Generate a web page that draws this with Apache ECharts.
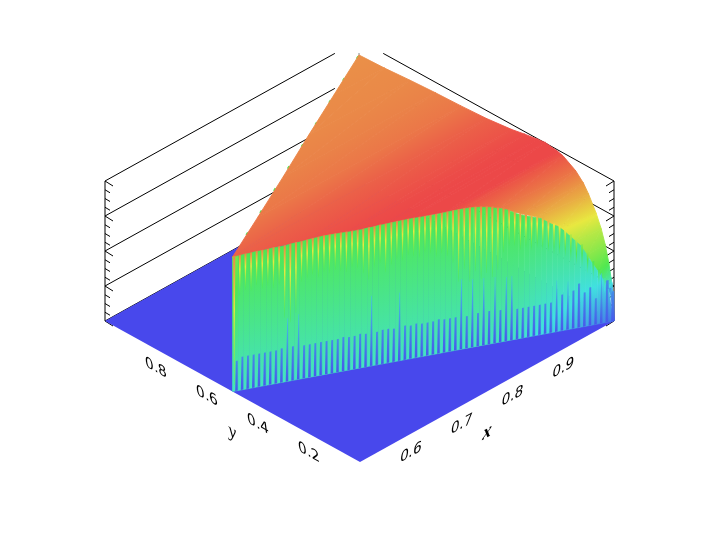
<!DOCTYPE html>
<html>
<head>
<meta charset="utf-8">
<style>
  html, body { margin: 0; padding: 0; background: #fff; }
  #main { width: 720px; height: 540px; }
</style>
<script src="https://cdn.jsdelivr.net/npm/echarts@6/dist/echarts.min.js"></script>
</head>
<body>
<div id="main"></div>
<script>
const xTicks = [0.6, 0.7, 0.8, 0.9]
const yTicks = [0.2, 0.4, 0.6, 0.8]
const zMajor = [0, 35, 70, 105, 140]
const zMinor = [8.75, 17.5, 26.25, 43.75, 52.5, 61.25, 78.75, 87.5, 96.25, 113.75, 122.5, 131.25]

// colour scale, position / colour
const scalePos = [0, 0.25, 0.5, 0.75, 1, 1.2]
const scaleColor = ['#4848ec', '#40e0e0', '#50e850', '#e8e840', '#ec4848', '#ea9048']

// surface, one entry per y line, far side to near side
const surfaceY = [1, 0.9, 0.8, 0.7, 0.6, 0.5, 0.4, 0.35, 0.3, 0.27, 0.22, 0.2, 0.15, 0.12, 0.1, 0.07, 0.05, 0.035, 0.02, 0.012, 0.008, 0.004, 0]
const surfaceOuterZ = [125, 126, 128, 129.5, 130.5, 132, 135, 137.5, 139.5, 140.5, 138.5, 137, 129, 121, 113, 98, 85, 72, 55, 42, 37, 25, 1]
const surfaceInnerZ = [125, 127, 129, 130, 132, 134.5, 138, 138, 139, 139.7, 139.8, 140, 134, 124, 118, 102, 87, 71, 51, 39, 34, 27, 1]
const surfaceTone = [1.2, 1.19, 1.18, 1.16, 1.13, 1.07, 1.03, 1.01, 1, 1, 1, 0.98, 0.93, 0.88, 0.84, 0.76, 0.67, 0.6, 0.5, 0.36, 0.25, 0.12, 0]

// jagged front wall, one entry per column, left to right
const wallTop = [134.5, 134.5, 135, 135, 135.5, 135.5, 135.5, 136, 136, 136, 136.5, 137, 137, 137.5, 138, 138.3, 138.6, 138.6, 138.6, 138.4,
  138.2, 138, 138, 138, 138.5, 138.5, 139, 139, 139.3, 139.5, 139.6, 139.7, 139.7, 139.6, 139.5, 139.4, 139.4, 139.5, 139.7, 139.9,
  140, 140, 139.8, 139.4, 138.6, 137.5, 136.4, 134.5, 133, 130.8, 127.5, 124.5, 122, 120, 118, 116, 112, 108, 105, 100,
  94, 88, 82, 73, 63, 54, 44, 33]
const stripeLen = [128, 40, 36, 38, 34, 38, 36, 40, 38, 72, 78, 70, 40, 38, 36, 40, 36, 38, 36, 38,
  40, 36, 38, 44, 52, 40, 38, 48, 42, 38, 40, 36, 38, 40, 36, 38, 42, 40, 44, 52,
  72, 60, 74, 64, 72, 66, 70, 62, 44, 36, 34, 36, 32, 34, 30, 32, 30, 30, 28, 26,
  26, 24, 22, 20, 18, 16, 14, 10]
const spikeLen = [30, 33, 33, 33, 33, 33, 33, 33, 34, 63, 34, 65, 33, 33, 33, 33, 33, 33, 33, 34,
  33, 33, 34, 33, 70, 33, 34, 34, 33, 68, 34, 33, 34, 33, 33, 33, 34, 33, 33, 33,
  70, 32, 68, 33, 67, 33, 66, 32, 64, 64, 30, 30, 30, 30, 30, 30, 30, 51, 36, 48,
  38, 44, 34, 38, 26, 50, 42, 30]
const wallTopTone = [0.56, 0.5, 0.5, 0.5, 0.5, 0.5, 0.5, 0.5, 0.5, 0.5, 0.5, 0.5, 0.5, 0.5, 0.5, 0.5, 0.5, 0.5, 0.5, 0.5,
  0.5, 0.5, 0.5, 0.5, 0.5, 0.5, 0.5, 0.5, 0.5, 0.5, 0.5, 0.5, 0.5, 0.5, 0.5, 0.5, 0.5, 0.5, 0.5, 0.5,
  0.5, 0.5, 0.5, 0.5, 0.5, 0.5, 0.5, 0.5, 0.5, 0.5, 0.5, 0.5, 0.49, 0.48, 0.47, 0.46, 0.45, 0.44, 0.44, 0.43,
  0.42, 0.4, 0.38, 0.36, 0.33, 0.29, 0.25, 0.21]
const wallFootTone = [0.3, 0.3, 0.3, 0.3, 0.3, 0.3, 0.3, 0.3, 0.3, 0.3, 0.3, 0.3, 0.3, 0.3, 0.3, 0.3, 0.3, 0.3, 0.3, 0.3,
  0.3, 0.3, 0.3, 0.3, 0.3, 0.3, 0.3, 0.3, 0.3, 0.3, 0.3, 0.3, 0.3, 0.3, 0.3, 0.3, 0.3, 0.3, 0.3, 0.3,
  0.3, 0.3, 0.3, 0.3, 0.3, 0.3, 0.3, 0.3, 0.3, 0.3, 0.29, 0.28, 0.27, 0.26, 0.25, 0.24, 0.23, 0.22, 0.21, 0.2,
  0.19, 0.18, 0.16, 0.15, 0.13, 0.12, 0.1, 0.08]

const xRange = [0.5, 1]
const yRange = [0, 1]
const wallReach = 0.905 // wall lines stop short of the back corner

function project (x, y, z) {
  let u = (x - xRange[0]) / (xRange[1] - xRange[0])
  let v = (y - yRange[0]) / (yRange[1] - yRange[0])
  return [360 + u * 254 - v * 255, 462 - u * 141 - v * 141 - z]
}

function hex (c) {
  return [1, 3, 5].map(k => parseInt(c.substr(k, 2), 16))
}

function toneColor (t) {
  let k = 0
  while (k < scalePos.length - 2 && t > scalePos[k + 1]) k++
  let f = Math.max(0, Math.min(1, (t - scalePos[k]) / (scalePos[k + 1] - scalePos[k])))
  let a = hex(scaleColor[k])
  let b = hex(scaleColor[k + 1])
  return 'rgb(' + a.map((v, n) => Math.round(v + (b[n] - v) * f)).join(',') + ')'
}

// stops between two tones, keeping the scale colours in between
function toneStops (t0, t1) {
  let ts = [t0]
  scalePos.forEach(p => {
    if ((p > t0 && p < t1) || (p < t0 && p > t1)) ts.push(p)
  })
  ts.push(t1)
  ts.sort((a, b) => t0 < t1 ? a - b : b - a)
  return ts.map(t => ({offset: t0 === t1 ? 0 : (t - t0) / (t1 - t0), color: toneColor(t)}))
}

function lineShape (a, b, style) {
  return {type: 'line', shape: {x1: a[0], y1: a[1], x2: b[0], y2: b[1]}, style: style}
}

function polygon (points, grad, strokeWidth) {
  return {
    type: 'polygon',
    shape: {points: points},
    style: {fill: grad, stroke: strokeWidth ? grad : null, lineWidth: strokeWidth || 0}
  }
}

// triangle with one edge a-b at tone t0 and its tip c at tone t1
function shadedTriangle (a, b, c, t0, t1) {
  let dx = b[0] - a[0]
  let dy = b[1] - a[1]
  let len = dx * dx + dy * dy
  if (len < 0.001) return null
  let s = ((c[0] - a[0]) * dx + (c[1] - a[1]) * dy) / len
  let foot = [a[0] + s * dx, a[1] + s * dy]
  let grad = new echarts.graphic.LinearGradient(foot[0], foot[1], c[0], c[1], toneStops(t0, t1), true)
  return polygon([a, b, c], grad, 0.9)
}

function edgeX (y) {
  return Math.max(y, 1 - y)
}

function nearestTone (y) {
  let best = 0
  surfaceY.forEach((v, j) => {
    if (Math.abs(v - y) < Math.abs(surfaceY[best] - y)) best = j
  })
  return surfaceTone[best]
}

function cliffPoint (api, col, z) {
  let u = col / wallTop.length
  return api.coord(project(0.5 + 0.5 * u, 0.5 - 0.5 * u, z))
}

function renderFloor (params, api) {
  let pts = [[xRange[0], yRange[0]], [xRange[1], yRange[0]], [xRange[1], yRange[1]], [xRange[0], yRange[1]]]
  return {
    type: 'polygon',
    shape: {points: pts.map(p => api.coord(project(p[0], p[1], 0)))},
    style: {fill: scaleColor[0]}
  }
}

function renderAxes (params, api) {
  let children = []
  let black = {stroke: '#000', lineWidth: 1}
  let left = z => api.coord(project(xRange[0], yRange[1], z))
  let right = z => api.coord(project(xRange[1], yRange[0], z))
  children.push(lineShape(left(0), left(140), black))
  children.push(lineShape(right(0), right(140), black))
  zMajor.forEach(z => {
    let a = left(z)
    let b = right(z)
    let end = api.coord(project(xRange[1], yRange[1], z))
    children.push(lineShape(a, [a[0] + (end[0] - a[0]) * wallReach, a[1] + (end[1] - a[1]) * wallReach], black))
    children.push(lineShape(b, [b[0] + (end[0] - b[0]) * wallReach, b[1] + (end[1] - b[1]) * wallReach], black))
    children.push(lineShape(a, [a[0] + 8, a[1] + 5], black))
    children.push(lineShape(b, [b[0] - 8, b[1] + 5], black))
  })
  zMinor.forEach(z => {
    let a = left(z)
    let b = right(z)
    children.push(lineShape(a, [a[0] + 5, a[1] + 3], black))
    children.push(lineShape(b, [b[0] - 5, b[1] + 3], black))
  })
  let back = api.coord(project(xRange[1], yRange[1], 0))
  children.push(lineShape(back, [back[0], back[1] - 127], {stroke: '#888', lineWidth: 1}))
  // fringe of the far side of the cliff, left of the surface
  let fa = api.coord(project(0.5, 0.5, surfaceInnerZ[5]))
  let fb = api.coord(project(1, 1, surfaceInnerZ[0]))
  children.push(lineShape(fa, fb, {stroke: toneColor(0.5), lineWidth: 1.9, lineDash: [3, 23]}))
  return {type: 'group', children: children}
}

function renderSurface (params, api) {
  let j = api.value(0)
  let y0 = surfaceY[j]
  let y1 = surfaceY[j + 1]
  let a = api.coord(project(edgeX(y0), y0, surfaceInnerZ[j]))
  let b = api.coord(project(1, y0, surfaceOuterZ[j]))
  let c = api.coord(project(edgeX(y1), y1, surfaceInnerZ[j + 1]))
  let d = api.coord(project(1, y1, surfaceOuterZ[j + 1]))
  let children = [
    shadedTriangle(a, b, c, surfaceTone[j], surfaceTone[j + 1]),
    shadedTriangle(c, d, b, surfaceTone[j + 1], surfaceTone[j])
  ].filter(Boolean)
  return {type: 'group', children: children}
}

function renderWall (params, api) {
  let i = api.value(0)
  let top = wallTop[i]
  let n = wallTop.length
  let next = i < n - 1 ? wallTop[i + 1] : 1
  let children = []
  // column background
  let ta = cliffPoint(api, i, top)
  let tb = cliffPoint(api, i + 1, next)
  let fa = cliffPoint(api, i, 0)
  let fb = cliffPoint(api, i + 1, 0)
  let bg = new echarts.graphic.LinearGradient(ta[0], ta[1], fa[0], fa[1], toneStops(wallTopTone[i], wallFootTone[i]), true)
  children.push(polygon([ta, tb, fb, fa], bg, 0.6))
  // stripe hanging from the top edge
  let yEdge = 0.5 - 0.5 * (i + 0.3) / n
  let upper = Math.min(0.9, nearestTone(yEdge))
  let sa = cliffPoint(api, i + 0.12, top + 0.6)
  let sb = cliffPoint(api, i + 0.5, top + 0.6)
  let sm = stripeLen[i]
  let sc = cliffPoint(api, i + 0.34, top - sm)
  let sd = cliffPoint(api, i + 0.28, top - sm)
  let sg = new echarts.graphic.LinearGradient(sa[0], sa[1], sa[0], sa[1] + sm, toneStops(upper, wallTopTone[i] - 0.02), true)
  children.push(polygon([sa, sb, sc, sd], sg, 0))
  // blue spike rising from the floor
  let h = Math.min(spikeLen[i], top)
  let tall = h > 45
  let pa = cliffPoint(api, i + 0.48, 0)
  let pb = cliffPoint(api, i + 1.12, 0)
  let pc = cliffPoint(api, tall ? i + 0.86 : i + 1.04, h)
  let pd = cliffPoint(api, tall ? i + 0.76 : i + 0.6, h)
  let pg = new echarts.graphic.LinearGradient(pa[0], pa[1], pa[0], pa[1] - h, toneStops(0.03, tall ? 0.2 : 0.11), true)
  children.push(polygon([pa, pb, pc, pd], pg, 0))
  return {type: 'group', children: children}
}

function renderLabel (params, api) {
  let kind = api.value(0)
  let value = api.value(1)
  let onX = kind === 0
  let p = onX ? project(value, yRange[0], 0) : project(xRange[0], value, 0)
  let c = api.coord(p)
  return {
    type: 'text',
    x: c[0],
    y: c[1] + 19,
    rotation: onX ? 0.506 : -0.506,
    skewX: onX ? -0.642 : 0.642,
    scaleY: 0.8,
    style: {
      text: value.toFixed(1),
      font: '15.5px "DejaVu Sans"',
      fill: '#000',
      textAlign: 'center',
      textVerticalAlign: 'middle'
    }
  }
}

function renderName (params, api) {
  let onX = api.value(0) === 0
  let p = onX ? project(0.75, yRange[0], 0) : project(xRange[0], 0.5, 0)
  let c = api.coord(p)
  return {
    type: 'text',
    x: c[0],
    y: c[1] + 41,
    rotation: onX ? 0.506 : -0.506,
    skewX: onX ? -0.642 : 0.642,
    scaleY: 0.85,
    style: {
      text: onX ? 'x' : 'y',
      font: 'italic ' + (onX ? 'bold ' : '') + '20px "Liberation Serif"',
      fill: '#000',
      textAlign: 'center',
      textVerticalAlign: 'middle'
    }
  }
}

function customSeries (renderItem, data, z) {
  return {type: 'custom', renderItem: renderItem, data: data, z: z, clip: false, silent: true, animation: false}
}

let myChart = echarts.init(document.getElementById('main'))
let option = {
  animation: false,
  grid: {left: 0, right: 0, top: 0, bottom: 0},
  xAxis: {type: 'value', min: 0, max: 720, show: false},
  yAxis: {type: 'value', min: 0, max: 540, inverse: true, show: false},
  series: [
    customSeries(renderAxes, [[0]], 1),
    customSeries(renderFloor, [[0]], 2),
    customSeries(renderSurface, surfaceY.slice(0, -1).map((v, j) => [j]), 3),
    customSeries(renderWall, wallTop.map((v, i) => [i]), 4),
    customSeries(renderLabel, xTicks.map(v => [0, v]).concat(yTicks.map(v => [1, v])), 5),
    customSeries(renderName, [[0], [1]], 5)
  ]
}
myChart.setOption(option, true)
</script>
</body>
</html>
